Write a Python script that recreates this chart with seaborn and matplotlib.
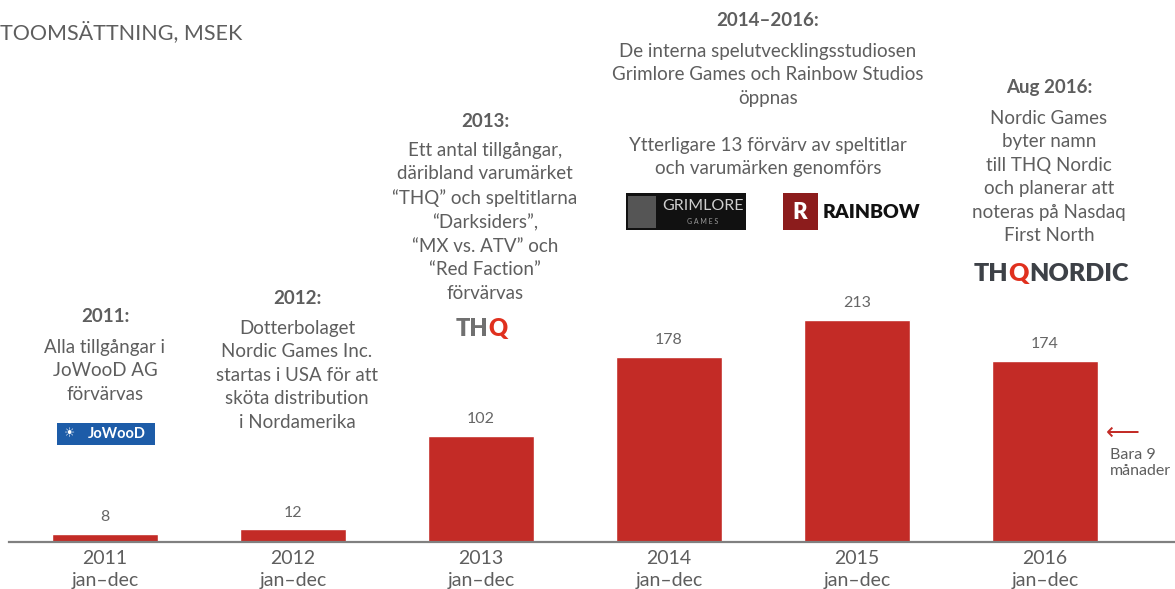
import matplotlib
matplotlib.use("Agg")
import matplotlib.pyplot as plt
import matplotlib.patches as mpatches
import seaborn as sns
import pandas as pd

years = ["2011", "2012", "2013", "2014", "2015", "2016"]
periods = ["jan–dec", "jan–dec", "jan–dec", "jan–dec", "jan–dec", "jan–dec"]
revenue = [8, 12, 102, 178, 213, 174]

title = "TOOMSÄTTNING, MSEK"
headers = ["2011:", "2012:", "2013:", "2014–2016:", "Aug 2016:"]
notes = [
    "Alla tillgångar i\nJoWooD AG\nförvärvas",
    "Dotterbolaget\nNordic Games Inc.\nstartas i USA för att\nsköta distribution\ni Nordamerika",
    "Ett antal tillgångar,\ndäribland varumärket\n“THQ” och speltitlarna\n“Darksiders”,\n“MX vs. ATV” och\n“Red Faction”\nförvärvas",
    "De interna spelutvecklingsstudiosen\nGrimlore Games och Rainbow Studios\nöppnas\n\nYtterligare 13 förvärv av speltitlar\noch varumärken genomförs",
    "Nordic Games\nbyter namn\ntill THQ Nordic\noch planerar att\nnoteras på Nasdaq\nFirst North",
]
side_note = "Bara 9\nmånader"

BAR = "#c32b26"
GREY = "#5e5e5e"
W, H = 1175, 589

sns.set_style("white")
plt.rcParams["font.family"] = ["Lato", "DejaVu Sans"]

df = pd.DataFrame({"label": [f"{y}\n{p}" for y, p in zip(years, periods)],
                   "revenue": revenue})

fig = plt.figure(figsize=(W / 100, H / 100), dpi=100)
ax = fig.add_axes([9 / W, (H - 542) / H, 1 - 9 / W, 542 / H])
sns.barplot(data=df, x="label", y="revenue", color=BAR, width=0.565,
            saturation=1, ax=ax)
ax.set_xlim(-(105 - 9) / 188, (W - 105) / 188)
ax.set_ylim(0, 542 / 1.042)
ax.set_xlabel("")
ax.set_ylabel("")
ax.set_yticks([])
sns.despine(ax=ax, left=True)
ax.spines["bottom"].set_color("#808080")
ax.spines["bottom"].set_linewidth(1.6)
ax.tick_params(axis="x", length=0, pad=6, labelsize=14, labelcolor=GREY)
for lbl in ax.get_xticklabels():
    lbl.set_linespacing(1.3)

for c in ax.containers:
    ax.bar_label(c, padding=7, fontsize=11.5, color="#666666")


def px(x, y):
    return x / W, 1 - y / H


def text(x, y, s, **kw):
    kw.setdefault("color", GREY)
    kw.setdefault("ha", "center")
    kw.setdefault("va", "center")
    return fig.text(*px(x, y), s, **kw)


def rect(x0, y0, x1, y1, color):
    fig.add_artist(mpatches.Rectangle(px(x0, y1), (x1 - x0) / W, (y1 - y0) / H,
                                      transform=fig.transFigure, color=color,
                                      lw=0))


text(0, 32, title, ha="left", fontsize=15.5)

# headers and notes
head_pos = [(105, 317), (297, 298), (485, 121), (768, 21), (1049, 88)]
note_top = [339, 320, 142, 43, 110]
for (hx, hy), h, n, nt in zip(head_pos, headers, notes, note_top):
    text(hx, hy, h, fontsize=13.5, fontweight="bold")
    text(hx, nt, n, va="top", fontsize=13.5, linespacing=1.46)

# side note on 2016 bar
text(1106, 433, "\u27f5", ha="left", color=BAR, fontsize=17,
     family="DejaVu Sans")
text(1110, 463, side_note, ha="left", fontsize=11.5, linespacing=1.15)

# logos, drawn as simple shapes and text
rect(57, 423, 155, 445, "#1d5ca8")
text(70, 434, "\u2600", color="white", fontsize=9, family="DejaVu Sans")
text(117, 434, "JoWooD", color="white", fontsize=10.5, fontweight="bold")

t1 = text(456, 329, "TH", ha="left", color="#707070", fontsize=17,
          fontweight="heavy")
ax.annotate("Q", xy=(1, 0), xycoords=t1, va="bottom", ha="left",
            color="#e0301e", fontsize=17, fontweight="heavy")

rect(626, 193, 746, 230, "#111111")
rect(628, 196, 656, 228, "#555555")
text(703, 206, "GRIMLORE", color="#cfcfcf", fontsize=11.5)
text(703, 222, "G A M E S", color="#9a9a9a", fontsize=5)

rect(783, 193, 818, 230, "#8c1c1c")
text(800, 212, "R", color="white", fontsize=16, fontweight="heavy")
text(823, 212, "RAINBOW", ha="left", color="#111111", fontsize=14,
     fontweight="heavy")

n1 = text(974, 274, "TH", ha="left", color="#3d4147", fontsize=18,
          fontweight="heavy")
n2 = ax.annotate("Q", xy=(1, 0), xycoords=n1, va="bottom", ha="left",
                 color="#e0301e", fontsize=18, fontweight="heavy")
ax.annotate("NORDIC", xy=(1, 0), xycoords=n2, va="bottom", ha="left",
            color="#3d4147", fontsize=18, fontweight="heavy")

fig.savefig("out.png", dpi=100)
